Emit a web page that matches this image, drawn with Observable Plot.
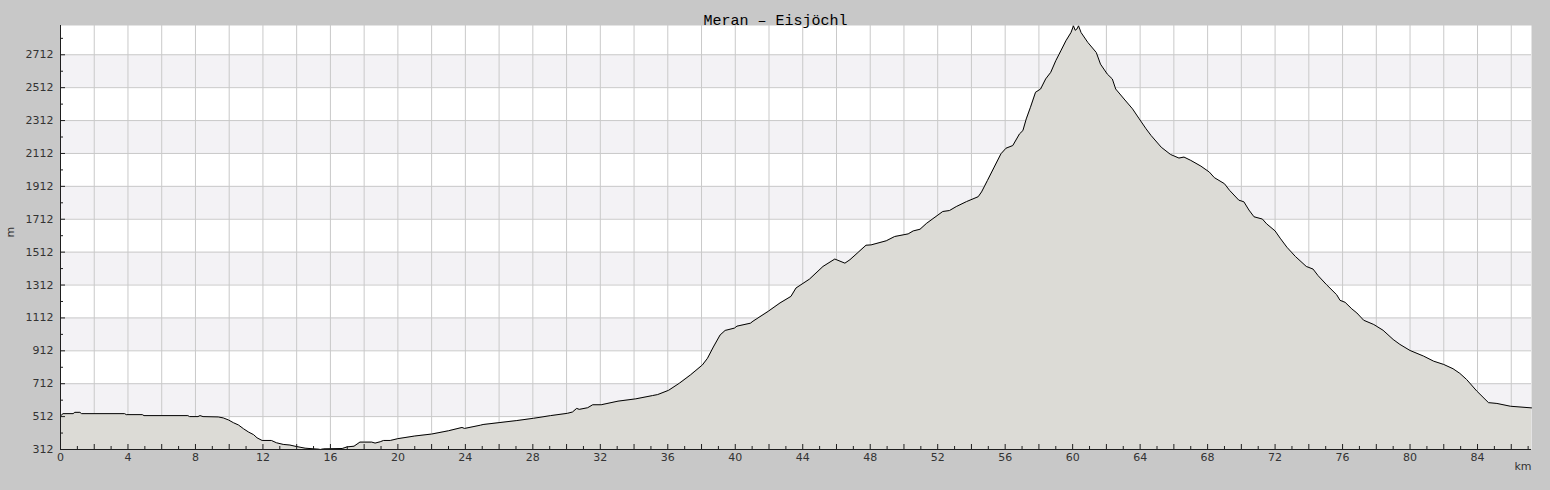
<!DOCTYPE html>
<html><head><meta charset="utf-8">
<script src="https://cdn.jsdelivr.net/npm/d3@7"></script>
<script src="https://cdn.jsdelivr.net/npm/@observablehq/plot@0.6"></script>
<style>html,body{margin:0;padding:0;background:#c8c8c8;}</style>
</head><body><div id="chart"></div>
<script>
const title = "Meran – Eisjöchl";
const xLabel = "km";
const yLabel = "m";

const distanceKm = [
  0.0, 0.15, 0.75, 0.85, 1.15, 1.25, 3.8, 3.9, 4.85, 4.95, 7.55, 7.65, 8.15, 8.27, 8.45, 9.35, 9.65, 9.95,
  10.25, 10.55, 10.85, 11.15, 11.45, 11.65, 11.95, 12.5, 12.8, 13.2, 13.6, 13.9, 14.2, 14.5, 15.0, 15.3, 15.4,
  15.6, 16.7, 17.0, 17.4, 17.75, 18.45, 18.65, 18.95, 19.15, 19.55, 20.0, 21.0, 22.0, 23.0, 23.8, 23.95,
  24.9, 25.05, 26.05, 27.05, 28.05, 29.05, 30.05, 30.35, 30.6, 30.75, 31.25, 31.55, 32.05, 33.05, 34.1,
  35.1, 35.4, 36.05, 36.7, 37.35, 38.05, 38.35, 38.7, 39.1, 39.4, 39.95, 40.1, 40.9, 41.05, 41.95, 42.65,
  43.3, 43.6, 44.4, 45.2, 45.9, 46.5, 46.8, 47.75, 48.05, 48.95, 49.45, 50.25, 50.55, 50.95, 51.35, 52.3,
  52.7, 53.1, 53.7, 54.4, 54.6, 54.95, 55.35, 55.75, 56.05, 56.45, 56.85, 57.05, 57.25, 57.5, 57.8, 58.1,
  58.4, 58.7, 59.0, 59.3, 59.6, 59.9, 60.05, 60.15, 60.25, 60.35, 60.5, 60.9, 61.4, 61.65, 62.05, 62.35,
  62.55, 63.05, 63.55, 63.95, 64.35, 64.65, 65.25, 65.8, 66.3, 66.6, 67.0, 67.6, 68.1, 68.4, 69.0, 69.3,
  69.85, 70.15, 70.45, 70.75, 71.25, 71.5, 72.0, 72.3, 72.7, 73.2, 73.85, 74.25, 74.55, 75.05, 75.65,
  75.85, 76.15, 76.55, 76.85, 77.25, 77.85, 78.4, 79.0, 79.4, 80.0, 80.8, 81.4, 82.0, 82.55, 82.95, 83.35,
  83.95, 84.65, 85.15, 85.95, 87.2
];
const elevationM = [
  516, 530, 530, 538, 538, 530, 530, 524, 524, 518, 518, 512, 512, 518, 512, 510, 504, 492,
  475, 461, 438, 418, 402, 383, 367, 367, 353, 343, 339, 332, 326, 320, 316, 314, 312,
  316, 318, 328, 332, 357, 357, 351, 359, 367, 367, 378, 394, 406, 426, 446, 440,
  460, 464, 476, 488, 502, 518, 532, 540, 562, 556, 566, 584, 584, 606, 620,
  640, 646, 672, 716, 766, 826, 866, 935, 1008, 1036, 1050, 1062, 1080, 1092, 1152, 1203,
  1243, 1294, 1348, 1425, 1470, 1445, 1466, 1554, 1556, 1581, 1607, 1623, 1641, 1651, 1688, 1759,
  1765, 1789, 1819, 1849, 1878, 1948, 2029, 2110, 2144, 2160, 2231, 2251, 2322, 2393, 2484, 2504,
  2565, 2605, 2676, 2736, 2797, 2847, 2888, 2861, 2868, 2888, 2847, 2787, 2726, 2655, 2595, 2565,
  2504, 2443, 2383, 2322, 2262, 2221, 2150, 2106, 2084, 2090, 2070, 2035, 1999, 1965, 1928, 1888,
  1828, 1818, 1768, 1727, 1713, 1684, 1641, 1597, 1542, 1486, 1425, 1409, 1369, 1314, 1253,
  1219, 1207, 1167, 1142, 1098, 1072, 1037, 981, 951, 914, 880, 849, 829, 803, 775, 738,
  668, 597, 592, 575, 565
];

const yTickValues = [312, 512, 712, 912, 1112, 1312, 1512, 1712, 1912, 2112, 2312, 2512, 2712];
const yMinorTicks = [412, 612, 812, 1012, 1212, 1412, 1612, 1812, 2012, 2212, 2412, 2612, 2812];
const yTopValue = 2890;
const bandStarts = [512, 912, 1312, 1712, 2112, 2512];
const bandSize = 200;
const xLabelTicks = [0, 4, 8, 12, 16, 20, 24, 28, 32, 36, 40, 44, 48, 52, 56, 60, 64, 68, 72, 76, 80, 84];
const xGridTicks = [2, 4, 6, 8, 10, 12, 14, 16, 18, 20, 22, 24, 26, 28, 30, 32, 34, 36, 38, 40, 42, 44,
  46, 48, 50, 52, 54, 56, 58, 60, 62, 64, 66, 68, 70, 72, 74, 76, 78, 80, 82, 84, 86];
const xMajorTicks = [0].concat(xGridTicks);
const xMinorTicks = [1, 3, 5, 7, 9, 11, 13, 15, 17, 19, 21, 23, 25, 27, 29, 31, 33, 35, 37, 39, 41, 43,
  45, 47, 49, 51, 53, 55, 57, 59, 61, 63, 65, 67, 69, 71, 73, 75, 77, 79, 81, 83, 85, 87];

const profile = distanceKm.map((km, i) => ({km, elev: elevationM[i]}));
const yBase = yTickValues[0];
const axisColor = "#1e1e1e";
const gridColor = "#c9c9c9";
const labelColor = "#333";
const plainNumber = d => String(d);

const chart = Plot.plot({
  width: 1550,
  height: 490,
  marginLeft: 60,
  marginRight: 19,
  marginTop: 25,
  marginBottom: 41,
  style: {background: "#c8c8c8", fontFamily: "DejaVu Sans", fontSize: "11px", color: labelColor},
  x: {domain: [0, d3.max(distanceKm)], label: null},
  y: {domain: [yBase, yTopValue], label: null},
  marks: [
    Plot.frame({fill: "white", stroke: null}),
    Plot.rect(bandStarts, {y1: d => d, y2: d => d + bandSize, fill: "#f3f2f5"}),
    Plot.gridY(yTickValues.slice(1), {stroke: gridColor, strokeOpacity: 1}),
    Plot.gridX(xGridTicks, {stroke: gridColor, strokeOpacity: 1}),
    Plot.areaY(profile, {x: "km", y1: yBase, y2: "elev", fill: "#dcdbd6"}),
    Plot.line(profile, {x: "km", y: "elev", stroke: "#000", strokeWidth: 1}),
    Plot.ruleX([0], {stroke: axisColor}),
    Plot.ruleY([yBase], {stroke: axisColor}),
    Plot.axisY(yTickValues, {tickSize: -5, stroke: axisColor, tickFormat: () => "", label: null}),
    Plot.axisY(yMinorTicks, {tickSize: -3, stroke: axisColor, tickFormat: () => "", label: null}),
    Plot.axisY(yTickValues, {tickSize: 0, tickPadding: 7, label: null, fill: labelColor, fontSize: 11, tickFormat: plainNumber}),
    Plot.axisX(xMajorTicks, {tickSize: -5, stroke: axisColor, tickFormat: () => "", label: null}),
    Plot.axisX(xMinorTicks, {tickSize: -3, stroke: axisColor, tickFormat: () => "", label: null}),
    Plot.axisX(xLabelTicks, {tickSize: 0, tickPadding: 4, label: null, fill: labelColor, fontSize: 11, tickFormat: plainNumber}),
    Plot.text([title], {text: d => d, frameAnchor: "top", dy: -11, dx: -20.5, fontFamily: "Liberation Mono", fontSize: 15, fill: "#000"}),
    Plot.text([xLabel], {text: d => d, frameAnchor: "bottom-right", dy: 20, textAnchor: "end", fill: labelColor, fontSize: 11}),
    Plot.text([yLabel], {text: d => d, frameAnchor: "left", dx: -50, rotate: -90, fill: labelColor, fontSize: 11})
  ]
});
document.getElementById("chart").appendChild(chart);
</script>
</body></html>
